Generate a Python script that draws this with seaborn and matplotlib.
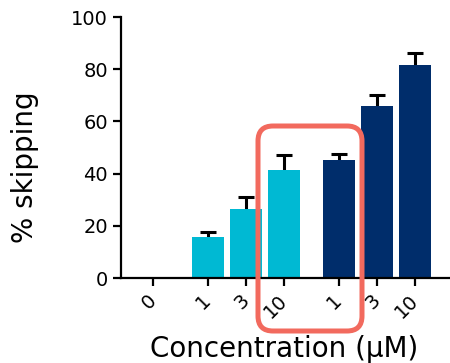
import matplotlib
matplotlib.use('Agg')
import matplotlib.pyplot as plt
import matplotlib.transforms as mtransforms
import pandas as pd
import seaborn as sns
from matplotlib.patches import FancyBboxPatch

# Values
concentrations = ['0', '1', '3', '10', '1', '3', '10']
groups = ['ctrl', 'A', 'A', 'A', 'B', 'B', 'B']
skipping = [0.0, 15.8, 26.5, 41.5, 45.3, 66.0, 81.7]
sem = [0.0, 1.9, 4.5, 5.6, 2.1, 4.1, 4.6]

# bar layout (gap between groups)
positions = [0, 1.43, 2.43, 3.43, 4.86, 5.86, 6.86]

palette = {'ctrl': '#00B9D3', 'A': '#00B9D3', 'B': '#002D6B'}

df = pd.DataFrame({'pos': positions, 'group': groups, 'skip': skipping})

sns.set_style('ticks', {'text.color': 'black', 'xtick.color': 'black',
                        'ytick.color': 'black', 'axes.labelcolor': 'black',
                        'axes.edgecolor': 'black'})
plt.rcParams['font.family'] = ['DejaVu Sans']

fig = plt.figure(figsize=(4.5, 3.63), dpi=100)
ax = fig.add_axes([0.269, 0.234, 0.731, 0.719])

# upper error bars only
_, caps, _ = ax.errorbar(positions[1:], skipping[1:], yerr=[[0] * 6, sem[1:]],
                         fmt='none', ecolor='black', elinewidth=2.2,
                         capsize=5.5, capthick=2.2, zorder=1)
caps[0].set_visible(False)

sns.barplot(data=df, x='pos', y='skip', hue='group', palette=palette,
            native_scale=True, dodge=False, width=0.85, legend=False,
            saturation=1, errorbar=None, ax=ax, zorder=2, linewidth=0)

ax.set_xlim(-0.84, 7.77)
ax.set_ylim(0, 100)
ax.set_yticks([0, 20, 40, 60, 80, 100])
ax.set_xticks(positions)
ax.set_xticklabels(concentrations, rotation=45, ha='right',
                   rotation_mode='anchor', va='center')
ax.tick_params(axis='both', labelsize=14, width=1.6, length=6, color='black')
ax.tick_params(axis='x', pad=8)
for side in ['left', 'bottom']:
    ax.spines[side].set_linewidth(1.6)
sns.despine(ax=ax)

ax.set_xlabel('Concentration (µM)', fontsize=20, va='top')
ax.xaxis.set_label_coords(0.495, -0.218)
ax.set_ylabel('% skipping', fontsize=20)
ax.yaxis.set_label_coords(-0.25, 0.425)

# highlight box, drawn in pixel coordinates (origin bottom-left)
box = FancyBboxPatch((258, 363 - 331), 104, 205,
                     boxstyle='round,pad=0,rounding_size=15',
                     transform=mtransforms.IdentityTransform(), fill=False,
                     edgecolor='#F26A5E', linewidth=3.6, clip_on=False)
fig.patches.append(box)

fig.savefig('out.png', dpi=100)
